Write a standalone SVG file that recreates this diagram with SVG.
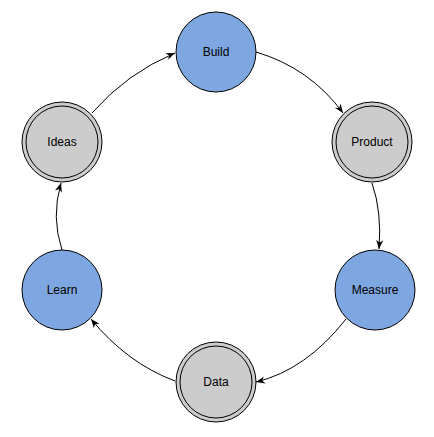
<svg xmlns="http://www.w3.org/2000/svg" width="434" height="437" viewBox="0 0 434 437">
<style>
.blue{fill:#7ea6e0;stroke:#000;stroke-width:1}
.grey{fill:#cccccc;stroke:#000;stroke-width:1}
.inner{fill:none;stroke:#000;stroke-width:1}
.lbl{font-family:"Liberation Sans",Arial,sans-serif;font-size:12px;fill:#000;text-anchor:middle}
.edge{fill:none;stroke:#000;stroke-width:1;marker-end:url(#arr)}
</style>
<defs>
<marker id="arr" markerUnits="userSpaceOnUse" viewBox="0 0 10 10" refX="10" refY="5" markerWidth="9" markerHeight="9" orient="auto">
<path d="M0,1 L10,5 L0,9 L3,5 Z" fill="#000"/>
</marker>
</defs>
<rect width="434" height="437" fill="#fff"/>
<g id="connectors">
<path class="edge" d="M256,52 Q310,68 343,113"/>
<path class="edge" d="M372,183 Q382,212 379,249"/>
<path class="edge" d="M346,319 Q306,370 256,382"/>
<path class="edge" d="M175,381 Q127,363 91,319"/>
<path class="edge" d="M62,250 Q51,217 61,183"/>
<path class="edge" d="M92,113 Q127,73 175,53"/>
</g>
<g id="build">
<circle class="blue" cx="216" cy="52" r="40"/>
<text class="lbl" x="216" y="56">Build</text>
</g>
<g id="product">
<circle class="grey" cx="372" cy="142" r="40"/>
<circle class="inner" cx="372" cy="142" r="36"/>
<text class="lbl" x="372" y="146">Product</text>
</g>
<g id="measure">
<circle class="blue" cx="375" cy="290" r="40"/>
<text class="lbl" x="375" y="294">Measure</text>
</g>
<g id="data">
<circle class="grey" cx="216" cy="382" r="40"/>
<circle class="inner" cx="216" cy="382" r="36"/>
<text class="lbl" x="216" y="386">Data</text>
</g>
<g id="learn">
<circle class="blue" cx="62" cy="290" r="40"/>
<text class="lbl" x="62" y="294">Learn</text>
</g>
<g id="ideas">
<circle class="grey" cx="62" cy="142" r="40"/>
<circle class="inner" cx="62" cy="142" r="36"/>
<text class="lbl" x="62" y="146">Ideas</text>
</g>
</svg>
